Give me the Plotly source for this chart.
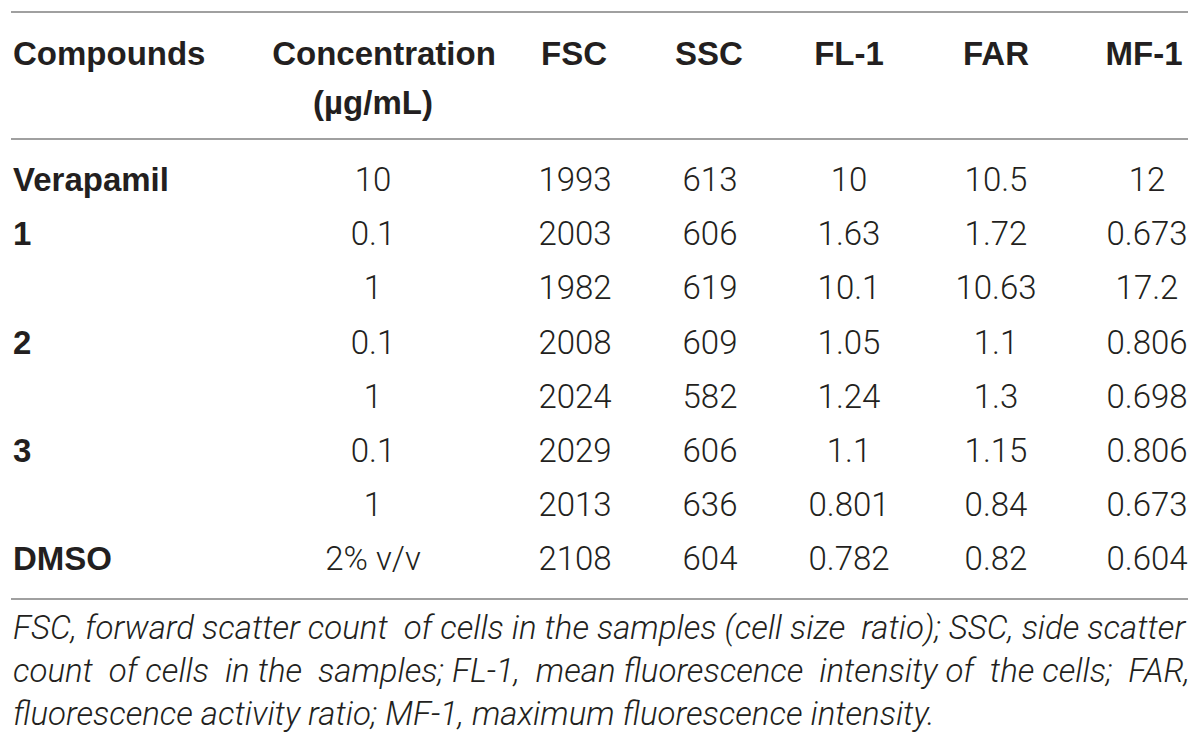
import plotly.graph_objects as go

# table content
compounds = ["Verapamil", "1", "", "2", "", "3", "", "DMSO"]
concentration = ["10", "0.1", "1", "0.1", "1", "0.1", "1", "2% v/v"]
fsc = [1993, 2003, 1982, 2008, 2024, 2029, 2013, 2108]
ssc = [613, 606, 619, 609, 582, 606, 636, 604]
fl1 = [10, 1.63, 10.1, 1.05, 1.24, 1.1, 0.801, 0.782]
far = [10.5, 1.72, 10.63, 1.1, 1.3, 1.15, 0.84, 0.82]
mf1 = [12, 0.673, 17.2, 0.806, 0.698, 0.806, 0.673, 0.604]

headers = ["Compounds", "Concentration", "FSC", "SSC", "FL-1", "FAR", "MF-1"]
conc_unit = "(\u00b5g/mL)"

footnote_lines = [
    "FSC, forward scatter count of cells in the samples (cell size ratio); SSC, side scatter",
    "count of cells in the samples; FL-1, mean fluorescence intensity of the cells; FAR,",
    "fluorescence activity ratio; MF-1, maximum fluorescence intensity.",
]
# extra spaces per line, to fake the justified footnote
footnote_pad = [2, 7, 0]

W, H = 1200, 746
PAD = 8  # browser body margin, axes are shifted so 1 unit == 1 page pixel
head_x = [13, 384, 574, 709, 849, 996, 1144]
val_x = [13, 373, 575, 710, 849, 996, 1147]
head_y = [57, 106]
row_y0, row_step = 183, 54.1
rule_y = [12, 139, 599]
ink = "#231f20"
rule_col = "#a0a0a0"

body_font = dict(family="Roboto, Liberation Sans, sans-serif", size=33, color=ink, weight=300)
bold_font = dict(family="Liberation Sans, Arial, sans-serif", size=33, color=ink, weight="bold")


def justify(line, extra):
    words = line.split(" ")
    gaps = len(words) - 1
    picks = {int((k + 0.5) * gaps / extra) for k in range(extra)} if extra else set()
    out = words[0]
    for i, w in enumerate(words[1:]):
        out += (" \u00a0" if i in picks else " ") + w
    return out


row_y = [row_y0 + i * row_step for i in range(len(compounds))]

fig = go.Figure()

# header rows
fig.add_trace(go.Scatter(
    x=[head_x[0]], y=[head_y[0]], mode="text", text=[headers[0]],
    textposition="middle right", textfont=bold_font, hoverinfo="skip"))
fig.add_trace(go.Scatter(
    x=head_x[1:], y=[head_y[0]] * 6, mode="text", text=headers[1:],
    textposition="middle center", textfont=bold_font, hoverinfo="skip"))
fig.add_trace(go.Scatter(
    x=[val_x[1]], y=[head_y[1]], mode="text", text=[conc_unit],
    textposition="middle center", textfont=bold_font, hoverinfo="skip"))

# compound names
fig.add_trace(go.Scatter(
    x=[val_x[0]] * len(compounds), y=row_y, mode="text", text=compounds,
    textposition="middle right", textfont=bold_font, hoverinfo="skip"))

# value columns
for cx, vals in zip(val_x[1:], [concentration, fsc, ssc, fl1, far, mf1]):
    fig.add_trace(go.Scatter(
        x=[cx] * len(vals), y=row_y, mode="text", text=[str(v) for v in vals],
        textposition="middle center", textfont=body_font, hoverinfo="skip"))

for ry in rule_y:
    fig.add_shape(type="line", xref="x", yref="y", x0=11, x1=1188, y0=ry, y1=ry,
                  line=dict(color=rule_col, width=2))

fig.add_annotation(
    x=11, y=606, xref="x", yref="y", xanchor="left", yanchor="top",
    text="<br>".join(justify(l, n) for l, n in zip(footnote_lines, footnote_pad)),
    showarrow=False, align="left",
    font=dict(family="Roboto, Liberation Sans, sans-serif", size=33, color=ink,
              weight=300, style="italic"))

fig.update_layout(
    width=W - PAD, height=H - PAD, margin=dict(l=0, r=0, t=0, b=0),
    paper_bgcolor="white", plot_bgcolor="white", showlegend=False,
    xaxis=dict(range=[PAD, W], visible=False, fixedrange=True),
    yaxis=dict(range=[H, PAD], visible=False, fixedrange=True),
)

fig.write_html("out.html")
